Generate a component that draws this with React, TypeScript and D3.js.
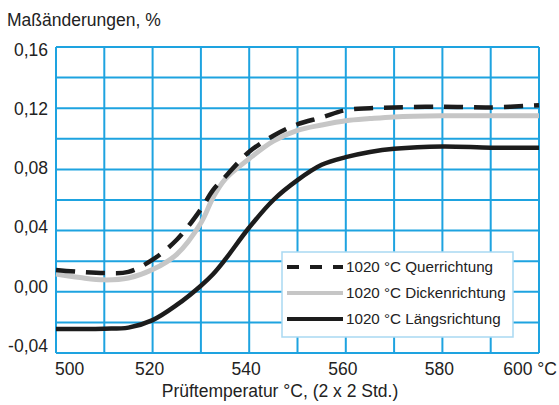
import React from "react";
import * as d3 from "d3";

const temps = [500, 505, 510, 515, 520, 525, 530, 532.5, 535, 540, 545, 550, 555, 560, 565, 570, 580, 590, 600];
const querValues = [0.0143, 0.013, 0.0123, 0.013, 0.021, 0.034, 0.054, 0.0665, 0.075, 0.0915, 0.102, 0.1095, 0.114, 0.1188, 0.12, 0.1205, 0.121, 0.1205, 0.122];
const dickenValues = [0.0116, 0.0093, 0.0078, 0.009, 0.0145, 0.0245, 0.045, 0.0615, 0.0735, 0.087, 0.0985, 0.1055, 0.109, 0.1118, 0.1132, 0.1143, 0.115, 0.115, 0.115];
const laengsValues = [-0.0243, -0.0243, -0.0241, -0.0234, -0.0185, -0.0086, 0.004, 0.0115, 0.021, 0.042, 0.06, 0.073, 0.083, 0.088, 0.0914, 0.0935, 0.095, 0.0942, 0.0942];

const seriesNames = ["1020 °C Querrichtung", "1020 °C Dickenrichtung", "1020 °C Längsrichtung"];
const xTickValues = [500, 520, 540, 560, 580, 600];
const xTickLabels = ["500", "520", "540", "560", "580", "600 °C"];
const yTickValues = [-0.04, 0, 0.04, 0.08, 0.12, 0.16];
const yTickLabels = ["-0,04", "0,00", "0,04", "0,08", "0,12", "0,16"];
const yTitle = "Maßänderungen, %";
const xTitle = "Prüftemperatur °C, (2 x 2 Std.)";

const W = 559;
const H = 405;
const left = 56, right = 539, top = 47, bottom = 353;
const FONT = "'Liberation Sans', Arial, Helvetica, sans-serif";
const GRID = "#1ea3e0";

export default function App() {
  const x = d3.scaleLinear().domain([500, 600]).range([left, right]);
  const y = d3.scaleLinear().domain([-0.04, 0.16]).range([bottom, top]);
  const yLab = d3.scaleLinear().domain([-0.04, 0.16]).range([bottom - 7.5, top + 3]);

  const mk = (vals: number[]) =>
    d3
      .line<number>()
      .x((_, i) => x(temps[i]))
      .y((v) => y(v))
      .curve(d3.curveCatmullRom.alpha(0.5))(vals) || "";

  const xGrid = d3.range(500, 600.001, 10);
  const yGrid = d3.range(-0.04, 0.1601, 0.02);

  const styles = [
    { stroke: "#1c1c1c", width: 4.5, dash: "19 11", legendDash: "12 11" },
    { stroke: "#c6c6c6", width: 5, dash: undefined, legendDash: undefined },
    { stroke: "#1c1c1c", width: 4.5, dash: undefined, legendDash: undefined },
  ];
  const series = [querValues, dickenValues, laengsValues];
  const drawOrder = [1, 2, 0];

  const lgX = 282, lgY = 252, lgW = 231, lgH = 85;
  const rowY = [267, 293, 319];

  return (
    <svg width={W} height={H} style={{ position: "absolute", left: 0, top: 0 }} fontFamily={FONT}>
      <rect x={0} y={0} width={W} height={H} fill="#fff" />
      <text x={7} y={26} fontSize={17.5} fill="#222">{yTitle}</text>
      {xGrid.map((t) => (
        <line key={"xg" + t} x1={x(t)} x2={x(t)} y1={top} y2={bottom} stroke={GRID} strokeWidth={2} />
      ))}
      {yGrid.map((v, i) => (
        <line key={"yg" + i} x1={left} x2={right} y1={y(v)} y2={y(v)} stroke={GRID} strokeWidth={2} />
      ))}
      {yTickValues.map((v, i) => (
        <text key={"yt" + i} x={48} y={yLab(v)} dy="0.35em" textAnchor="end" fontSize={17.5} fill="#222">
          {yTickLabels[i]}
        </text>
      ))}
      {xTickValues.map((t, i) => {
        const last = i === xTickValues.length - 1;
        const first = i === 0;
        return (
          <text
            key={"xt" + t}
            x={first ? x(t) - 1 : last ? x(t) + 18 : x(t) - 3}
            y={375}
            textAnchor={first ? "start" : last ? "end" : "middle"}
            fontSize={17.5}
            fill="#222"
          >
            {xTickLabels[i]}
          </text>
        );
      })}
      <text x={280} y={397} textAnchor="middle" fontSize={17.5} fill="#222">{xTitle}</text>
      {drawOrder.map((k) => (
        <path
          key={"s" + k}
          d={mk(series[k])}
          fill="none"
          stroke={styles[k].stroke}
          strokeWidth={styles[k].width}
          strokeDasharray={styles[k].dash}
        />
      ))}
      <rect x={lgX} y={lgY} width={lgW} height={lgH} fill="#fff" stroke="#a9d9f2" strokeWidth={1.5} />
      {seriesNames.map((n, i) => (
        <g key={"lg" + i}>
          <line
            x1={287}
            x2={343}
            y1={rowY[i]}
            y2={rowY[i]}
            stroke={styles[i].stroke}
            strokeWidth={4}
            strokeDasharray={styles[i].legendDash}
          />
          <text x={346} y={rowY[i]} dy="0.36em" fontSize={15.2} fill="#222">{n}</text>
        </g>
      ))}
    </svg>
  );
}
